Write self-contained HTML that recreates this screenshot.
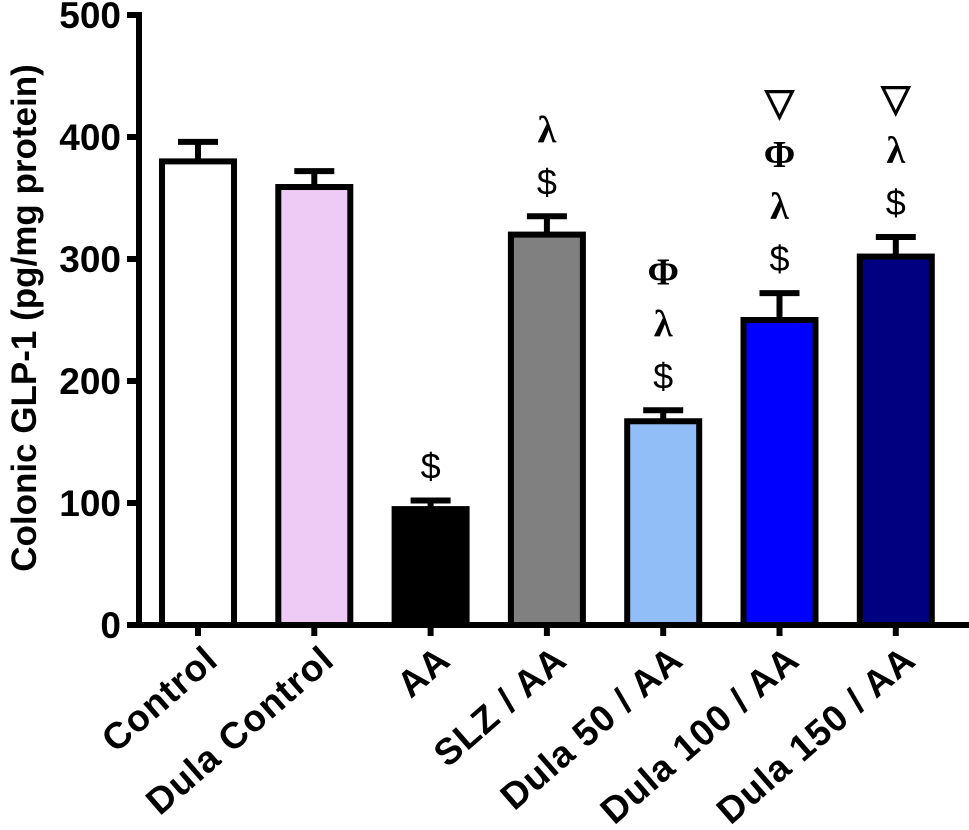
<!DOCTYPE html>
<html><head><meta charset="utf-8"><style>
body{margin:0;background:#fff}
svg{display:block}
.tk{font-family:"Liberation Sans",sans-serif;font-weight:bold;font-size:37px}
.ttl{font-family:"Liberation Sans",sans-serif;font-weight:bold;font-size:35px}
.cat{font-family:"Liberation Sans",sans-serif;font-weight:bold;font-size:37px;letter-spacing:1px}
.ann{font-family:"Liberation Serif",serif;font-weight:bold;font-size:38px}
.dol{font-family:"Liberation Sans",sans-serif;font-size:36px}
</style></head><body>
<svg id="c" width="969" height="830" xmlns="http://www.w3.org/2000/svg">
<text class="ttl" transform="translate(36,318) rotate(-90)" text-anchor="middle">Colonic GLP-1 (pg/mg protein)</text>
</svg>
<script>
const categories=["Control","Dula Control","AA","SLZ / AA","Dula 50 / AA","Dula 100 / AA","Dula 150 / AA"];
const values=[380,359,95,320,167,250,302];
const errors=[16,13,7,15,9,22,16];
const colors=["#ffffff","#eecbf5","#000000","#808080","#92bef8","#0000ff","#000080"];
const annotations=[[],[],["$"],["λ","$"],["Φ","λ","$"],["▽","Φ","λ","$"],["▽","λ","$"]];
const yTicks=[0,100,200,300,400,500];
const svg=document.getElementById('c');
const NS="http://www.w3.org/2000/svg";
const y0=625,y1=15,ax=139;
const y=v=>y0-(v/500)*(y0-y1);
const x=i=>198+i*116.3;
const bw=72;
function mk(t,a){const e=document.createElementNS(NS,t);for(const k in a)e.setAttribute(k,a[k]);svg.appendChild(e);return e;}
categories.forEach((c,i)=>{
  const cx=x(i);
  const eb=mk('path',{d:`M${cx},${y(values[i])} V${y(values[i]+errors[i])} M${cx-20},${y(values[i]+errors[i])} H${cx+20}`,stroke:'#000','stroke-width':6,fill:'none'});
  
  
  const r=mk('rect',{x:cx-bw/2,y:y(values[i]),width:bw,height:y0-y(values[i]),fill:colors[i],stroke:'#000','stroke-width':6});
  
  
  const tk=mk('line',{x1:cx,x2:cx,y1:y0,y2:y0+11,stroke:'#000','stroke-width':6});
  
  
  const t=mk('text',{class:'cat','text-anchor':'end',transform:`translate(${cx+22},${y0+38}) rotate(-41)`});
  t.textContent=c;
  
  
  const an=annotations[i];
  const top=y(values[i]+errors[i]);
  an.forEach((s,j)=>{
    const k=an.length-1-j;
    const a=mk('text',{class:s==="$"?'dol':'ann','text-anchor':'middle',x:cx,y:top-22-k*52});
    a.textContent=s;
    
    
  });
});
yTicks.forEach(v=>{
  const l=mk('line',{x1:ax-12,x2:ax,y1:y(v),y2:y(v),stroke:'#000','stroke-width':6});
  
  
  const t=mk('text',{class:'tk','text-anchor':'end',x:121,y:y(v)+13});
  t.textContent=v;
  
  
});
const ya=mk('line',{x1:ax,x2:ax,y1:y1-3,y2:y0+3,stroke:'#000','stroke-width':6});


const xa=mk('line',{x1:ax-3,x2:969,y1:y0,y2:y0,stroke:'#000','stroke-width':6});


</script>
</body></html>
